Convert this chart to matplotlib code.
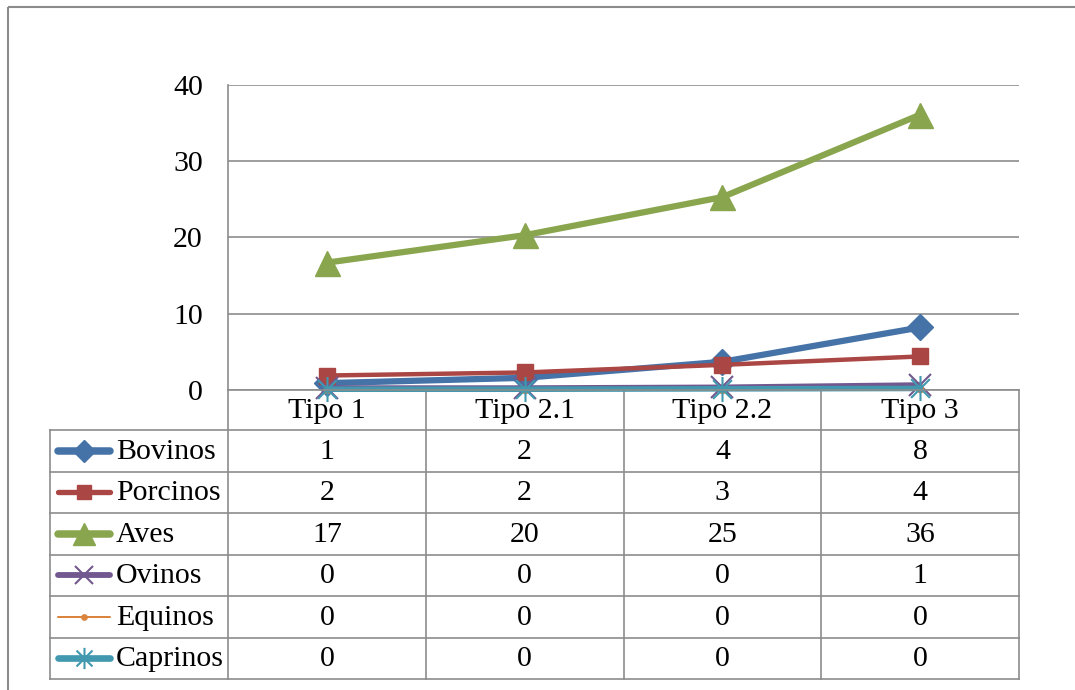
import numpy as np
import matplotlib
matplotlib.use("Agg")
import matplotlib.pyplot as plt
from matplotlib.patches import Rectangle
from matplotlib.path import Path

plt.rcParams['font.family'] = ['Liberation Serif', 'DejaVu Serif']

categories = ['Tipo 1', 'Tipo 2.1', 'Tipo 2.2', 'Tipo 3']
series_names = ['Bovinos', 'Porcinos', 'Aves', 'Ovinos', 'Equinos', 'Caprinos']
bovinos = [0.9, 1.6, 3.7, 8.2]
porcinos = [1.9, 2.3, 3.3, 4.4]
aves = [16.7, 20.3, 25.3, 36.1]
ovinos = [0.3, 0.3, 0.4, 0.7]
equinos = [0.05, 0.05, 0.05, 0.1]
caprinos = [0.1, 0.1, 0.15, 0.2]
yticks = [0, 10, 20, 30, 40]

# excel-like "star": x plus a vertical bar
M, L = Path.MOVETO, Path.LINETO
star = Path([(0, -1), (0, 1), (-0.75, -0.75), (0.75, 0.75), (-0.75, 0.75), (0.75, -0.75)],
            [M, L, M, L, M, L])

values = [bovinos, porcinos, aves, ovinos, equinos, caprinos]
colors = ['#4572A7', '#AA4643', '#89A54E', '#71588F', '#DB843D', '#4198AF']
styles = [
    dict(lw=4.5, marker='D', ms=13),
    dict(lw=3.2, marker='s', ms=12),
    dict(lw=4.5, marker='^', ms=18),
    dict(lw=3.5, marker='x', ms=16, mew=1.5),
    dict(lw=1.2, marker='o', ms=4.5),
    dict(lw=4.0, marker=star, ms=18, mew=1.5),
]

W, H = 1075, 690
fig = plt.figure(figsize=(W / 100, H / 100), dpi=100)
fs = 21.5

# pixel layout
x0, x1 = 228, 1019
ytop, ybot = 85, 390
tab_left = 50
row_h = 41.5
head_bot = 430
gray = '#8c8c8c'

ax = fig.add_axes([x0 / W, 1 - ybot / H, (x1 - x0) / W, (ybot - ytop) / H])
x = np.arange(len(categories))
for name, vals, c, st in zip(series_names, values, colors, styles):
    ax.plot(x, vals, color=c, solid_capstyle='round', clip_on=False, **st)
ax.set_xlim(-0.5, len(categories) - 0.5)
ax.set_ylim(0, 40)
ax.set_yticks(yticks)
ax.set_xticks([])
ax.tick_params(axis='y', length=0, pad=18, labelsize=fs)
ax.grid(axis='y', color=gray, lw=1.2)
ax.set_axisbelow(True)
for s in ['top', 'right']:
    ax.spines[s].set_visible(False)
ax.spines['left'].set_color(gray)
ax.spines['left'].set_linewidth(1.2)
ax.spines['bottom'].set_color(gray)
ax.spines['bottom'].set_linewidth(1.2)

# data table overlay in pixel coordinates
tb = fig.add_axes([0, 0, 1, 1], zorder=-1)
tb.set_xlim(0, W)
tb.set_ylim(H, 0)
tb.axis('off')

tb.add_patch(Rectangle((8, 7), W + 20, H + 20, fill=False, ec=gray, lw=1.5))

col_w = (x1 - x0) / len(categories)
col_edges = [x0 + i * col_w for i in range(len(categories) + 1)]
tab_bot = head_bot + row_h * len(series_names)

# vertical lines
tb.plot([x0, x0], [ybot, tab_bot], color=gray, lw=1.2)
for xe in col_edges[1:]:
    tb.plot([xe, xe], [ybot, tab_bot], color=gray, lw=1.2)
tb.plot([tab_left, tab_left], [head_bot, tab_bot], color=gray, lw=1.2)
# horizontal lines
for i in range(len(series_names) + 1):
    yy = head_bot + i * row_h
    tb.plot([tab_left, x1], [yy, yy], color=gray, lw=1.2)

# header
for i, cat in enumerate(categories):
    tb.text(x0 + (i + 0.5) * col_w, (ybot + head_bot) / 2 + 1, cat,
            ha='center', va='center', fontsize=fs)

# rows
for r, (name, vals, c, st) in enumerate(zip(series_names, values, colors, styles)):
    yc = head_bot + (r + 0.5) * row_h
    tb.plot([58, 110], [yc, yc], color=c, lw=st['lw'] * 1.2, solid_capstyle='round')
    tb.plot([84], [yc], color=c, marker=st['marker'], ms=st['ms'] * 0.85,
            mew=st.get('mew', 1), ls='none')
    tb.text(116, yc + 1, name, ha='left', va='center', fontsize=fs)
    for i, v in enumerate(vals):
        tb.text(x0 + (i + 0.5) * col_w, yc + 1, str(int(np.floor(v + 0.5))),
                ha='center', va='center', fontsize=fs)

fig.savefig('out.png', dpi=100)
